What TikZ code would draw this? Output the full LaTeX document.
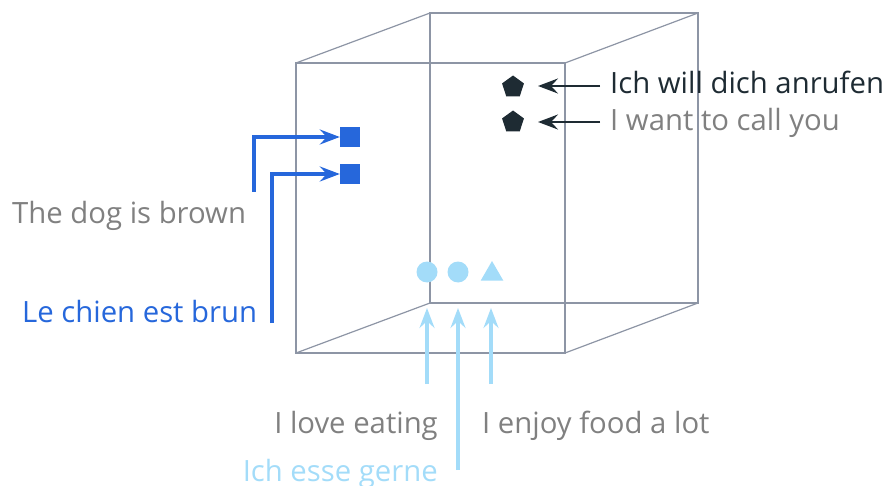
\documentclass[tikz,border=0pt]{standalone}
\usepackage{fontspec}
\setmainfont{Open Sans}
\usetikzlibrary{arrows.meta,shapes.geometric}
\definecolor{cubec}{HTML}{8D95A5}
\definecolor{graytxt}{HTML}{808080}
\definecolor{bluec}{HTML}{2667DB}
\definecolor{lightb}{HTML}{A3DCF9}
\definecolor{darkc}{HTML}{1E2B33}
\tikzset{
  edge/.style={draw=cubec, line width=1.2pt},
  lbl/.style={font=\fontsize{29.3}{34}\selectfont, inner sep=0pt},
  arr/.style={line width=3.2pt, -{Stealth[length=20pt,width=15pt,inset=7pt]}},
  sq/.style={fill=bluec, minimum size=20pt, inner sep=0pt},
  circ/.style={circle, fill=lightb, minimum size=21pt, inner sep=0pt},
  tri/.style={regular polygon, regular polygon sides=3, fill=lightb, minimum size=26pt, inner sep=0pt},
  pent/.style={regular polygon, regular polygon sides=5, fill=darkc, minimum size=23pt, inner sep=0pt}
}
\begin{document}
\begin{tikzpicture}[x=1pt,y=-1pt]
\useasboundingbox (0,0) rectangle (885,486);
% cube
\coordinate (f1) at (296,63); \coordinate (f2) at (565,63);
\coordinate (f3) at (565,353); \coordinate (f4) at (296,353);
\coordinate (b1) at (430,13); \coordinate (b2) at (698,13);
\coordinate (b3) at (698,303); \coordinate (b4) at (430,303);
\draw[edge] (f1)--(f2)--(f3)--(f4)--cycle;
\draw[edge] (b1)--(b2)--(b3)--(b4)--cycle;
\draw[edge] (f1)--(b1) (f2)--(b2) (f3)--(b3) (f4)--(b4);
% squares
\node[sq] (s1) at (350,137) {};
\node[sq] (s2) at (350,174) {};
\node[lbl, text=graytxt, anchor=base west] (t1) at (12,223) {The dog is brown};
\node[lbl, text=bluec, anchor=base west] (t2) at (22,322) {Le chien est brun};
\coordinate (a1) at (254,192);
\coordinate (a2) at (272,323);
\draw[arr, bluec] (a1) |- (s1.west);
\draw[arr, bluec] (a2) |- (s2.west);
% circles
\node[circ] (c1) at (427,272) {};
\node[circ] (c2) at (458,272) {};
\node[tri] (tr) at (492,274) {};
\node[lbl, text=graytxt, anchor=base east] (t3) at (438,433) {I love eating};
\node[lbl, text=graytxt, anchor=base west] (t4) at (482,433) {I enjoy food a lot};
\node[lbl, text=lightb, anchor=base east] (t5) at (438,481) {Ich esse gerne};
\coordinate (u1) at (427,384);
\coordinate (u2) at (458,470);
\coordinate (u3) at (491,384);
\draw[arr, lightb] (u1) -- (427,308);
\draw[arr, lightb] (u2) -- (458,308);
\draw[arr, lightb] (u3) -- (491,308);
% pentagons
\node[pent] (p1) at (513,87) {};
\node[pent] (p2) at (513,122) {};
\node[lbl, text=darkc, anchor=base west] (t6) at (610,94) {Ich will dich anrufen};
\node[lbl, text=graytxt, anchor=base west] (t7) at (610,131) {I want to call you};
\coordinate (r1) at (600,86);
\coordinate (r2) at (600,122);
\draw[arr, darkc, line width=2.6pt] (r1) -- (538,86);
\draw[arr, darkc, line width=2.6pt] (r2) -- (538,122);
\end{tikzpicture}
\end{document}
